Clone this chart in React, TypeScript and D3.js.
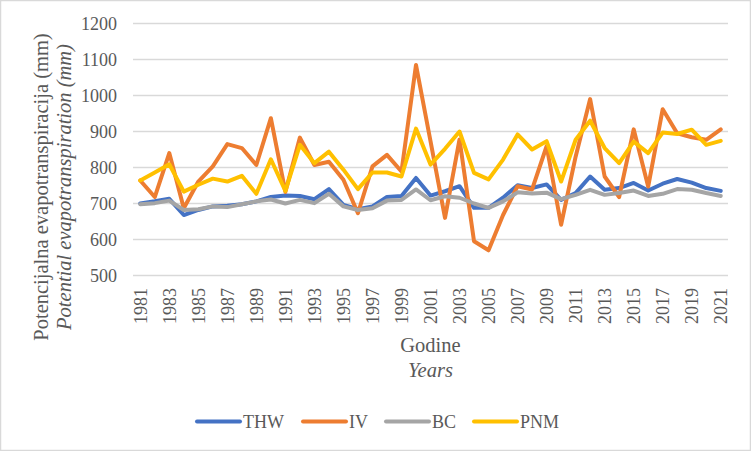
import React from "react";
import * as d3 from "d3";

const years = [
  "1981","1982","1983","1984","1985","1986","1987","1988","1989","1990",
  "1991","1992","1993","1994","1995","1996","1997","1998","1999","2000",
  "2001","2002","2003","2004","2005","2006","2007","2008","2009","2010",
  "2011","2012","2013","2014","2015","2016","2017","2018","2019","2020","2021",
];
const yTicks = [500, 600, 700, 800, 900, 1000, 1100, 1200];

const THW = [700,706,713,668,682,692,694,698,706,718,722,721,712,740,696,684,692,718,721,771,722,734,748,688,688,716,751,743,753,710,729,775,738,743,757,736,755,768,758,743,735];
const IV = [764,718,840,687,761,803,865,854,807,937,732,883,807,816,766,673,803,835,789,1085,873,660,878,595,570,668,748,739,859,641,830,990,775,718,906,747,962,895,884,877,906];
const BC = [698,701,708,682,684,692,690,698,706,711,700,710,701,727,692,682,687,708,710,739,709,720,716,700,688,706,731,728,730,712,724,738,724,729,736,721,727,740,738,729,721];
const PNM = [764,786,809,733,752,769,761,777,727,823,735,863,812,844,794,740,786,786,775,908,808,852,900,785,767,822,892,850,873,761,877,930,854,812,872,840,897,893,905,863,874];

const seriesNames = ["THW", "IV", "BC", "PNM"];
const seriesData = [THW, IV, BC, PNM];
const colors = ["#4472C4", "#ED7D31", "#A5A5A5", "#FFC000"];

const W = 751;
const H = 451;
const FONT = '"Liberation Serif", "Times New Roman", Tinos, "DejaVu Serif", serif';
const TEXT = "#595959";

export default function App() {
  const x = d3.scaleBand<string>().domain(years).range([133, 728]);
  const y = d3.scaleLinear().domain([500, 1200]).range([275.5, 23.5]);
  const cx = (yr: string) => (x(yr) ?? 0) + x.bandwidth() / 2;
  const line = d3
    .line<number>()
    .x((_, i) => cx(years[i]))
    .y((d) => y(d));

  const legendX = [197, 303, 386, 474];
  const ts = { fontFamily: FONT };

  return (
    <svg
      width={W}
      height={H}
      style={{ position: "absolute", left: 0, top: 0, background: "#fff", fontFamily: FONT }}
    >
      <rect x={0.5} y={0.5} width={W - 1} height={H - 1} fill="#fff" stroke="#D9D9D9" strokeWidth={1.5} />
      {yTicks.map((t) => (
        <g key={t}>
          <line x1={133} x2={728} y1={y(t)} y2={y(t)} stroke="#D9D9D9" strokeWidth={1.5} />
          <text x={117} y={y(t)} dy="0.35em" textAnchor="end" fontSize={18} fill={TEXT} style={ts}>
            {t}
          </text>
        </g>
      ))}
      {years.map((yr, i) =>
        i % 2 === 0 ? (
          <text
            key={yr}
            transform={`translate(${cx(yr)},288) rotate(-90)`}
            dy="0.35em"
            textAnchor="end"
            fontSize={18}
            fill={TEXT}
            style={ts}
          >
            {yr}
          </text>
        ) : null
      )}
      {seriesData.map((d, k) => (
        <path
          key={seriesNames[k]}
          d={line(d) ?? ""}
          fill="none"
          stroke={colors[k]}
          strokeWidth={4}
          strokeLinejoin="round"
          strokeLinecap="round"
        />
      ))}
      <g transform="translate(48,187) rotate(-90)">
        <text textAnchor="middle" fontSize={20.5} fill={TEXT} style={ts}>
          Potencijalna evapotranspiracija (mm)
        </text>
        <text y={23} textAnchor="middle" fontSize={20.5} fontStyle="italic" fill={TEXT} style={ts}>
          Potential evapotranspiration (mm)
        </text>
      </g>
      <text x={430.5} y={352} textAnchor="middle" fontSize={20.5} fill={TEXT} style={ts}>
        Godine
      </text>
      <text x={430.5} y={377} textAnchor="middle" fontSize={20.5} fontStyle="italic" fill={TEXT} style={ts}>
        Years
      </text>
      {seriesNames.map((n, k) => (
        <g key={n}>
          <line
            x1={legendX[k]}
            x2={legendX[k] + 43}
            y1={421.5}
            y2={421.5}
            stroke={colors[k]}
            strokeWidth={4}
            strokeLinecap="round"
          />
          <text x={legendX[k] + 46} y={421.5} dy="0.35em" fontSize={18} fill={TEXT} style={ts}>
            {n}
          </text>
        </g>
      ))}
    </svg>
  );
}
